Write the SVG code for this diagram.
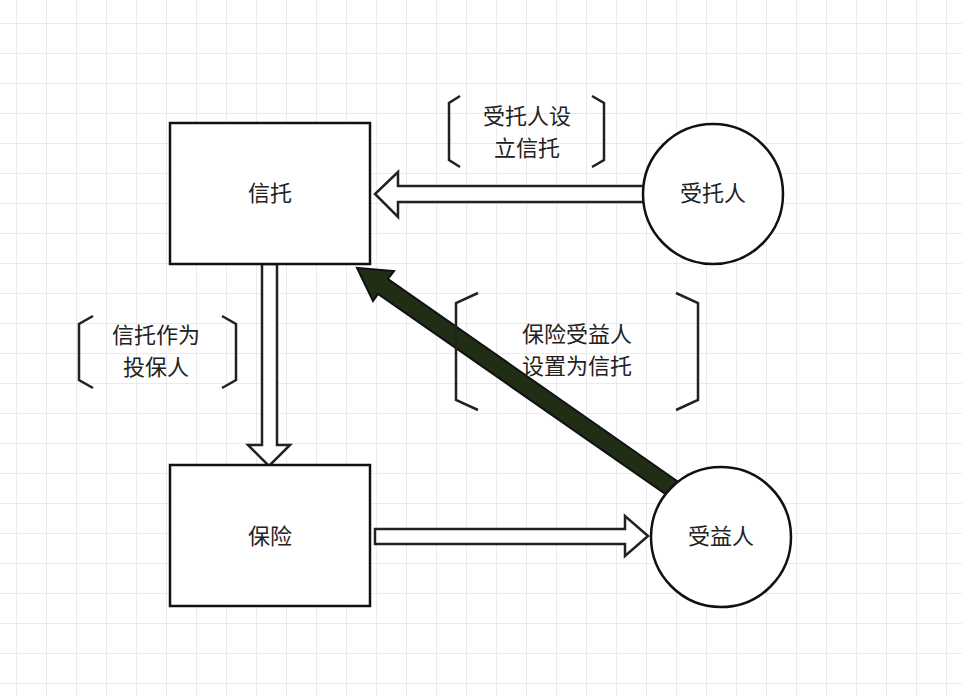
<svg xmlns="http://www.w3.org/2000/svg" width="962" height="696" viewBox="0 0 962 696">
<defs>
<pattern id="g" x="16" y="23" width="30" height="30" patternUnits="userSpaceOnUse"><path d="M0 0V30M0 0H30" stroke="#d8d8de" stroke-width="1" fill="none"/></pattern>
</defs>
<style>
.n{fill:#fff;stroke:#111;stroke-width:2.5}
.a{fill:#fff;stroke:#222;stroke-width:2.5;stroke-linejoin:miter}
.b{fill:none;stroke:#222;stroke-width:2.5}
text{font-family:"Noto Sans CJK SC",sans-serif;font-size:22px;fill:#222;text-anchor:middle}
</style>
<rect width="962" height="696" fill="#fff"/>
<rect width="962" height="696" fill="url(#g)"/>
<g id="connectors">
<path class="a" d="M645 186H398V172L375 194L398 217V202H645Z"/>
<path class="a" d="M262 264V445H248L269 466L290 445H277V264Z"/>
<path class="a" d="M375 529H625V516L648 536L625 556V544H375Z"/>
<path d="M677 481L388 279L394 271L357 268L373 301L378 294L667 495Z" fill="#1f2e14" stroke="#111" stroke-width="2"/>
</g>
<g id="label1"><path class="b" d="M460 96L449 103V160L460 167M592 96L604 103V160L592 167"/><text x="527" y="124">受托人设</text><text x="527" y="156">立信托</text></g>
<g id="label2"><path class="b" d="M93 316L79 324V380L93 388M222 316L236 324V380L222 388"/><text x="156" y="343">信托作为</text><text x="156" y="375">投保人</text></g>
<g id="label3"><path class="b" d="M478 293L456 303V400L478 410M676 293L698 303V400L676 410"/><text x="577" y="342">保险受益人</text><text x="577" y="374">设置为信托</text></g>
<g id="trust"><rect class="n" x="170" y="123" width="200" height="141"/><text x="270" y="201">信托</text></g>
<g id="insurance"><rect class="n" x="170" y="465" width="200" height="141"/><text x="270" y="544">保险</text></g>
<g id="trustee"><circle class="n" cx="713" cy="194" r="70"/><text x="713" y="201">受托人</text></g>
<g id="beneficiary"><circle class="n" cx="721" cy="537" r="70"/><text x="721" y="544">受益人</text></g>
</svg>
